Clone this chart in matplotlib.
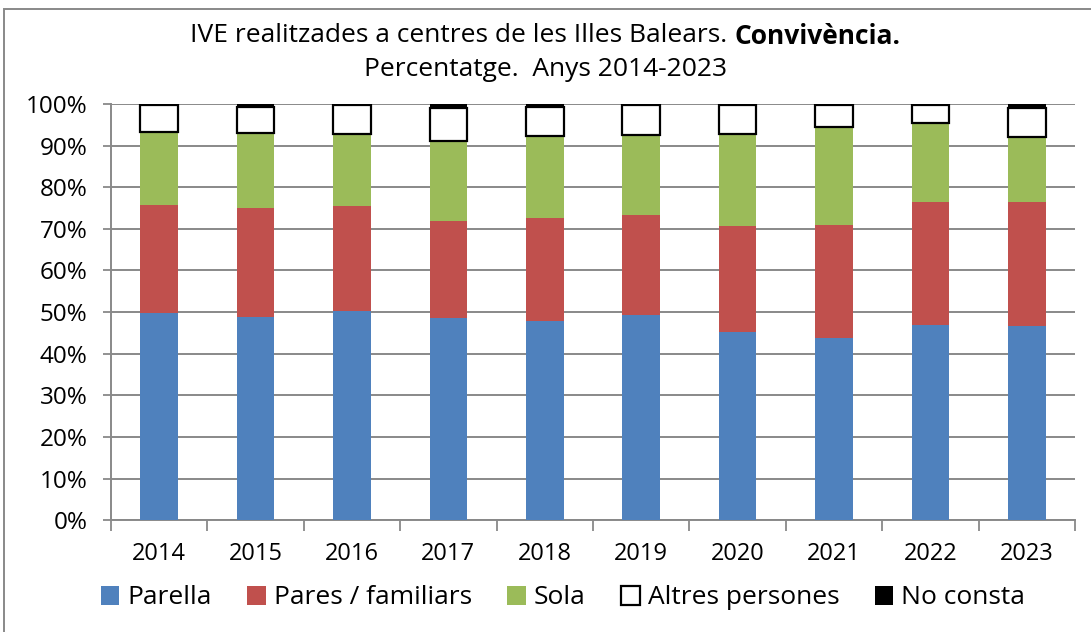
import matplotlib.pyplot as plt
from matplotlib.patches import Rectangle
import numpy as np

# data (percent of IVE per year)
years = ['2014', '2015', '2016', '2017', '2018', '2019', '2020', '2021', '2022', '2023']
parella = [49.7, 48.8, 50.2, 48.5, 47.8, 49.4, 45.3, 43.7, 47.0, 46.6]
pares = [26.1, 26.3, 25.3, 23.4, 24.7, 24.0, 25.5, 27.2, 29.5, 29.9]
sola = [17.5, 18.0, 17.2, 19.3, 19.8, 19.1, 22.0, 23.5, 18.9, 15.6]
altres = [6.4, 6.1, 7.1, 7.8, 6.9, 7.2, 7.0, 5.4, 4.4, 7.0]
no_consta = [0.3, 0.8, 0.2, 1.0, 0.8, 0.3, 0.2, 0.2, 0.2, 0.9]

plt.rcParams['font.family'] = ['Open Sans', 'DejaVu Sans']

fig = plt.figure(figsize=(10.91, 6.32), dpi=100)
ax = fig.add_axes([0.1017, 0.177, 0.8837, 0.6584])

x = np.arange(len(years))
w = 0.39
grey = '#898989'

b1 = np.array(parella)
b2 = b1 + np.array(pares)
b3 = b2 + np.array(sola)
b4 = b3 + np.array(altres)

ax.bar(x, parella, w, color='#4F81BD', label='Parella', zorder=3)
ax.bar(x, pares, w, bottom=b1, color='#C0504D', label='Pares / familiars', zorder=3)
ax.bar(x, sola, w, bottom=b2, color='#9BBB59', label='Sola', zorder=3)
ax.bar(x, altres, w, bottom=b3, color='white', edgecolor='black', linewidth=1.6,
       label='Altres persones', zorder=3)
ax.bar(x, no_consta, w, bottom=b4, color='black', label='No consta', zorder=4)

ax.set_xlim(-0.5, len(years) - 0.5)
ax.set_ylim(0, 100)
ax.set_yticks(np.arange(0, 101, 10))
ax.set_yticklabels([f'{v}%' for v in range(0, 101, 10)])
ax.set_xticks(x)
ax.set_xticklabels(years)
ax.set_xticks(np.arange(-0.5, len(years)), minor=True)
ax.tick_params(axis='x', which='major', length=0, pad=16, labelsize=17)
ax.tick_params(axis='x', which='minor', length=8, width=1.3, color=grey, direction='out')
ax.tick_params(axis='y', length=6, width=1.3, color=grey, labelsize=17.5, pad=11)

ax.yaxis.grid(True, color=grey, linewidth=1.4, zorder=0)
ax.set_axisbelow(True)
for s in ['top', 'right']:
    ax.spines[s].set_visible(False)
for s in ['left', 'bottom']:
    ax.spines[s].set_color(grey)
    ax.spines[s].set_linewidth(1.4)

# title, first line mixes regular and bold, so place both pieces by hand
fig.canvas.draw()
renderer = fig.canvas.get_renderer()
y1 = 1 - 36 / 632
t1 = fig.text(0, y1, 'IVE realitzades a centres de les Illes Balears. ',
              ha='left', va='center', fontsize=19)
t2 = fig.text(0, y1, 'Convivència.', ha='left', va='center', fontsize=19,
              fontweight='bold')
w1 = t1.get_window_extent(renderer).width
w2 = t2.get_window_extent(renderer).width
fw = fig.bbox.width
x0 = (fw - (w1 + w2)) / 2
t1.set_x(x0 / fw)
t2.set_x((x0 + w1) / fw)
fig.text(0.5, 1 - 70 / 632, 'Percentatge.  Anys 2014-2023', ha='center', va='center',
         fontsize=19)

fig.legend(loc='center', bbox_to_anchor=(0.516, 1 - 598 / 632), ncol=5, frameon=False,
           fontsize=19, handlelength=0.7, handleheight=0.7, handletextpad=0.3,
           columnspacing=1.35)

# outer chart frame
fig.patches.append(Rectangle((4 / 1091, -0.05), 1.1, 1 - 9 / 632 + 0.05,
                             transform=fig.transFigure, fill=False,
                             edgecolor=grey, linewidth=1.4))

fig.savefig('out.png', dpi=100)
